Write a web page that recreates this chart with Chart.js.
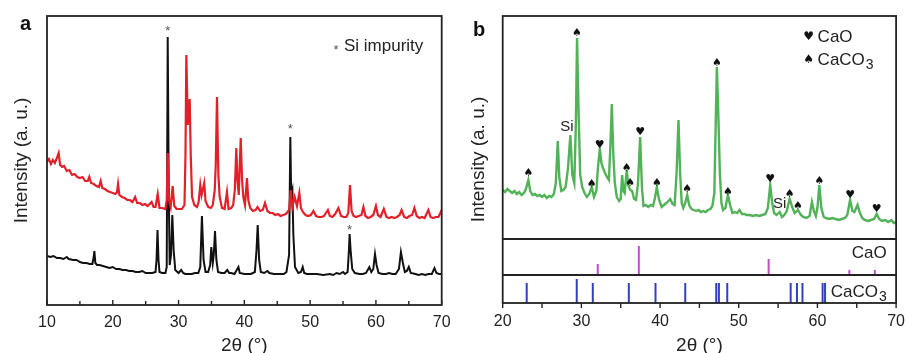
<!DOCTYPE html>
<html>
<head>
<meta charset="utf-8">
<script src="https://cdn.jsdelivr.net/npm/chart.js@4.4.1/dist/chart.umd.min.js"></script>
<style>
  body { margin: 0; background: #fff; overflow: hidden; }
  #wrap { position: relative; width: 906px; height: 353px; overflow: hidden; }
  canvas { position: absolute; top: 0; }
  .tag { position: absolute; font: bold 20px "Liberation Sans", Arial, sans-serif; line-height: 20px; color: #111; }
</style>
</head>
<body>
<div id="wrap">
  <canvas id="chartA" width="460" height="362" style="left:0"></canvas>
  <canvas id="chartB" width="454" height="362" style="left:460px"></canvas>
  <div class="tag" style="left:20px;top:13px">a</div>
  <div class="tag" style="left:473px;top:19px">b</div>
</div>
<script>
// ---- panel a: 2θ / intensity pairs ----
const redA = [[10,143],[10.3,146],[10.6,141],[10.9,145],[11.2,142],[11.5,147],[11.77,152],[12.0,140],[12.3,138],[12.6,139],[13,134],[13.4,135],[13.8,130],[14.2,131],[14.6,128],[15,127],[15.4,128],[15.8,124],[16.2,124],[16.43,128],[16.7,122],[17.1,121],[17.5,119],[17.9,118],[18.16,124],[18.4,117],[18.8,116],[19.2,114],[19.6,113],[20,112],[20.4,111],[20.65,113],[20.8,121],[21.0,110],[21.4,108],[21.8,107],[22.2,105],[22.6,105],[23.0,103],[23.4,108],[23.7,102],[24.1,102],[24.5,100],[24.9,101],[25.3,99],[25.9,103],[26.2,98],[26.5,98],[26.83,111],[27.1,97],[27.5,97],[28.0,96],[28.2,105],[28.35,152],[28.55,105],[28.8,98],[29.1,119],[29.35,99],[29.7,96],[30.1,96],[30.5,96],[30.9,100],[31.05,150],[31.18,250],[31.4,180],[31.55,195],[31.69,206],[31.85,150],[32.05,108],[32.4,100],[32.8,98],[33.05,103],[33.3,120],[33.5,110],[33.9,122],[34.1,104],[34.5,98],[34.9,97],[35.2,100],[35.5,115],[35.65,140],[35.84,208],[36.05,130],[36.25,108],[36.6,97],[37.0,96],[37.36,113],[37.6,96],[38.0,97],[38.3,100],[38.55,115],[38.78,157],[38.95,125],[39.15,110],[39.3,140],[39.45,167],[39.65,125],[39.85,108],[40.1,100],[40.4,127],[40.6,105],[40.9,97],[41.3,94],[41.7,95],[42.0,98],[42.4,94],[42.8,95],[43.14,102],[43.5,94],[43.9,92],[44.3,92],[44.7,90],[45.1,91],[45.5,89],[45.9,90],[46.3,91],[46.8,95],[47.05,115],[47.3,98],[47.65,108],[48.0,99],[48.36,112],[48.6,97],[48.9,93],[49.3,90],[49.7,89],[50.1,90],[50.5,94],[50.9,89],[51.3,88],[51.7,88],[52.1,89],[52.4,92],[52.7,95],[53.0,89],[53.4,88],[53.8,91],[54.3,97],[54.7,89],[55.1,88],[55.5,88],[55.8,92],[56.06,120],[56.3,94],[56.6,89],[57.0,88],[57.4,89],[57.8,90],[58.1,98],[58.4,89],[58.8,87],[59.2,88],[59.6,90],[60.0,99],[60.3,90],[60.7,88],[61.2,96],[61.6,88],[62.0,87],[62.4,88],[62.8,87],[63.2,88],[63.6,90],[63.9,95],[64.3,88],[64.7,87],[65.1,89],[65.5,90],[65.85,97],[66.2,89],[66.6,87],[67.0,88],[67.4,87],[67.97,95],[68.3,88],[68.7,87],[69.1,88],[69.5,88],[69.8,92],[70,95]];

const blackA = [[10,49],[10.5,48],[11,49],[11.5,47],[12,47],[12.5,46],[13,48],[13.3,46],[14,45],[14.5,45],[15,43],[15.5,42],[16,42],[16.5,41],[16.9,41],[17.1,48],[17.2,54],[17.35,42],[17.6,40],[18,40],[18.5,39],[19,38],[19.5,37],[20,38],[20.5,36],[21,36],[21.5,35],[22,35],[22.5,34],[23,34],[23.5,33],[24,33],[24.5,34],[25,32],[25.5,32],[26,32],[26.5,33],[26.65,45],[26.8,75],[26.95,45],[27.1,33],[27.5,32],[28,32],[28.2,38],[28.35,268],[28.5,120],[28.65,40],[28.85,50],[29.05,90],[29.25,55],[29.5,35],[30,32],[30.4,35],[30.7,32],[31,31],[31.5,31],[32,31],[32.5,32],[33,32],[33.3,38],[33.55,89],[33.8,45],[34.1,33],[34.5,33],[34.8,40],[34.98,58],[35.2,42],[35.35,50],[35.54,74],[35.75,45],[36,33],[36.5,32],[37,32],[37.4,35],[37.7,32],[38,32],[38.5,31],[39.1,38],[39.3,32],[40,31],[40.5,31],[41,31],[41.6,33],[41.85,55],[42.03,80],[42.25,45],[42.5,33],[43,32],[43.5,34],[43.8,32],[44.5,31],[45,31],[45.5,31],[46,31],[46.4,33],[46.8,50],[46.99,168],[47.12,110],[47.3,115],[47.45,70],[47.7,38],[48.2,32],[48.6,33],[48.87,38],[49.1,32],[49.5,31],[50,31],[51,31],[52,30],[53,31],[53.5,30],[54,32],[54.5,31],[55,33],[55.3,31],[55.7,33],[55.9,55],[56.0,71],[56.15,55],[56.4,36],[56.8,32],[57.5,31],[58,31],[58.5,32],[59,38],[59.3,33],[59.6,36],[59.86,51],[60.1,40],[60.4,32],[61,31],[61.5,31],[62,32],[62.5,31],[63,31],[63.5,36],[63.8,53],[64.1,42],[64.4,33],[64.7,34],[65.0,38],[65.3,32],[66,31],[66.5,30],[67,31],[67.5,30],[68,31],[68.5,31],[68.9,37],[69.2,32],[69.6,31],[70,31]];

const siStarsA = [[28.35, 277], [46.99, 179], [56.0, 78]];
const ticksA = [10, 20, 30, 40, 50, 60, 70];

// ---- panel b ----
const greenB = [[20,113],[20.3,111],[20.6,114],[20.9,112],[21.2,110],[21.5,112],[21.8,109],[22.1,111],[22.4,108],[22.7,110],[22.95,114],[23.26,123],[23.5,112],[23.8,108],[24.1,109],[24.4,107],[24.7,108],[25.0,106],[25.3,108],[25.6,105],[25.9,107],[26.2,106],[26.5,109],[26.75,120],[27.0,162],[27.2,125],[27.45,112],[27.7,113],[28.0,116],[28.3,135],[28.6,168],[28.85,128],[29.1,120],[29.3,180],[29.45,265],[29.65,190],[29.85,128],[30.1,116],[30.4,110],[30.7,106],[31.0,109],[31.32,116],[31.6,106],[31.9,112],[32.1,135],[32.34,154],[32.55,140],[32.75,135],[33.0,130],[33.25,126],[33.5,123],[33.7,160],[33.87,199],[34.05,150],[34.25,120],[34.5,106],[34.8,102],[35.0,104],[35.18,128],[35.35,112],[35.5,110],[35.77,133],[35.95,118],[36.2,113],[36.45,112],[36.7,104],[36.95,103],[37.2,120],[37.47,166],[37.7,115],[37.9,97],[38.2,98],[38.5,96],[38.8,98],[39.1,97],[39.35,105],[39.59,116],[39.85,104],[40.2,96],[40.5,98],[40.8,100],[41.05,102],[41.29,104],[41.6,99],[41.85,98],[42.1,130],[42.34,183],[42.55,130],[42.75,100],[42.95,95],[43.2,100],[43.45,108],[43.7,98],[44.0,94],[44.3,93],[44.6,92],[44.9,93],[45.2,91],[45.5,92],[45.8,91],[46.1,93],[46.4,94],[46.65,97],[46.9,110],[47.05,170],[47.22,236],[47.4,190],[47.6,130],[47.8,100],[48.0,93],[48.3,95],[48.62,108],[48.9,98],[49.2,90],[49.5,91],[49.8,90],[50.1,93],[50.4,89],[50.7,89],[51.0,88],[51.4,88],[51.8,87],[52.2,88],[52.6,87],[53.0,88],[53.4,89],[53.7,95],[54.0,118],[54.25,100],[54.5,90],[54.8,88],[55.2,91],[55.5,86],[55.8,88],[56.1,92],[56.47,104],[56.8,96],[57.1,90],[57.53,93],[57.9,88],[58.2,86],[58.6,85],[59.0,87],[59.3,101],[59.55,92],[59.8,87],[60.0,95],[60.24,118],[60.5,95],[60.8,86],[61.1,85],[61.5,84],[61.9,85],[62.3,84],[62.7,83],[63.1,84],[63.5,85],[63.8,88],[64.15,103],[64.45,92],[64.7,91],[65.1,98],[65.4,90],[65.7,85],[66.0,83],[66.4,82],[66.8,83],[67.2,84],[67.53,89],[67.85,84],[68.2,82],[68.6,83],[69.0,81],[69.4,83],[69.7,80],[70,81]];

// reference patterns (stick positions and heights)
const caoPos = [32.08, 37.3, 53.8, 64.06, 67.3];
const caoH = [11, 29, 16, 5, 5];
const caco3Pos = [23.05, 29.41, 31.45, 36.03, 39.42, 43.2, 47.14, 47.48, 48.54, 56.6, 57.4, 58.1, 60.66, 60.97];
const caco3H = [20, 24, 20, 20, 20, 20, 20, 20, 20, 20, 20, 20, 20, 20];
const paneBase = { caco3: 0, cao: 28 };
const paneLevels = [28, 64];

// phase markers on the measured pattern
const spadesB = [[23.26,130],[29.45,270],[31.32,119],[35.77,135],[36.2,120],[39.59,120],[43.45,114],[47.22,240],[48.62,111],[56.47,109],[57.53,97],[60.24,122]];
const heartsB = [[32.34,158],[37.47,171],[54.0,124],[64.15,108],[67.53,94]];
const siLabelsB = [[28.15,176],[55.19,99]];
const ticksB = [20, 30, 40, 50, 60, 70];

const FONT = '"Liberation Sans", Arial, Helvetica, sans-serif';
const SYM = '"DejaVu Sans", sans-serif';
const INK = '#222';

const toXY = arr => arr.map(([x, y]) => ({ x, y }));
const sticks = (pos, h, base) => pos.flatMap((x, i) => [{ x, y: base }, { x, y: base + h[i] }, { x, y: null }]);

// frame, tick marks and text annotations
function decor(cfg) {
  return {
    id: 'decor',
    afterDatasetsDraw(chart) {
      const { ctx, chartArea: a, scales: { x, y } } = chart;
      ctx.save();
      ctx.strokeStyle = INK;
      ctx.lineWidth = 1.8;
      (cfg.levels || []).forEach(l => {
        const py = y.getPixelForValue(l);
        ctx.beginPath(); ctx.moveTo(a.left, py); ctx.lineTo(a.right, py); ctx.stroke();
      });
      ctx.strokeRect(a.left, a.top, a.right - a.left, a.bottom - a.top);
      ctx.lineWidth = 1.4;
      for (let v = x.min; v <= x.max; v += 5) {
        const px = x.getPixelForValue(v);
        const len = v % 10 === 0 ? cfg.major : cfg.minor;
        ctx.beginPath(); ctx.moveTo(px, a.bottom); ctx.lineTo(px, a.bottom + cfg.dir * len); ctx.stroke();
      }
      ctx.textBaseline = 'middle';
      cfg.texts.forEach(t => {
        ctx.font = t.font;
        ctx.fillStyle = t.color || INK;
        ctx.textAlign = t.align || 'center';
        const px = x.getPixelForValue(t.x) + (t.dx || 0);
        const py = y.getPixelForValue(t.y) + (t.dy || 0);
        ctx.fillText(t.text, px, py);
        if (t.sub) {
          const w = ctx.measureText(t.text).width;
          ctx.font = t.subFont;
          ctx.textAlign = 'left';
          ctx.fillText(t.sub, px + w + 1, py + 5);
        }
      });
      ctx.restore();
    }
  };
}

function axes(min, max, ymax, ticks, pad) {
  return {
    x: {
      type: 'linear', min, max,
      grid: { display: false, drawTicks: false },
      border: { display: false },
      afterBuildTicks: s => { s.ticks = ticks.map(value => ({ value })); },
      ticks: { padding: pad.tick, color: INK, font: { family: FONT, size: 16 } },
      // negative top padding lets the title box overlap the label box, as in the figure
      title: { display: true, text: '2θ (°)', color: INK, font: { family: FONT, size: 19 }, padding: { top: -5.6, bottom: 4.6 } }
    },
    y: {
      min: 0, max: ymax,
      grid: { display: false, drawTicks: false },
      border: { display: false },
      ticks: { display: false },
      title: { display: true, text: 'Intensity (a. u.)', color: INK, font: { family: FONT, size: 19 }, padding: { top: 0, bottom: pad.title } }
    }
  };
}

const line = (data, color, width) => ({ type: 'line', data, borderColor: color, borderWidth: width, pointRadius: 0, tension: 0, fill: false, spanGaps: false });

new Chart(document.getElementById('chartA'), {
  type: 'line',
  data: { datasets: [line(toXY(redA), '#e3202a', 2.2), line(toXY(blackA), '#111111', 2)] },
  options: {
    responsive: false, animation: false,
    layout: { padding: { left: 10, right: 18.3, top: 16, bottom: 0 } },
    plugins: { legend: { display: false }, tooltip: { enabled: false } },
    scales: axes(10, 70, 289, ticksA, { tick: 8, title: 14.2 })
  },
  plugins: [decor({
    dir: -1, major: 5, minor: 4,
    texts: [
      ...siStarsA.map(([x, y]) => ({ x, y, dy: 3, text: '*', font: `13px ${FONT}`, color: '#555' })),
      { x: 53.93, y: 258, dy: 3, text: '*', font: `13px ${FONT}`, color: '#555' },
      { x: 53.93, y: 259, dx: 8, text: 'Si impurity', align: 'left', font: `17px ${FONT}` }
    ]
  })]
});

new Chart(document.getElementById('chartB'), {
  type: 'line',
  data: { datasets: [
    line(toXY(greenB), '#52b257', 2.4),
    line(sticks(caoPos, caoH, paneBase.cao), '#c24cc4', 2),
    line(sticks(caco3Pos, caco3H, paneBase.caco3), '#3040c0', 2)
  ] },
  options: {
    responsive: false, animation: false,
    layout: { padding: { left: 7.6, right: 0, top: 16, bottom: 0 } },
    plugins: { legend: { display: false }, tooltip: { enabled: false } },
    scales: axes(20, 70, 287, ticksB, { tick: 9, title: 12.3 })
  },
  plugins: [decor({
    dir: 1, major: 5, minor: 5, levels: paneLevels,
    texts: [
      ...spadesB.map(([x, y]) => ({ x, y, text: '♠', font: `11px ${SYM}`, color: '#111' })),
      ...heartsB.map(([x, y]) => ({ x, y, text: '♥', font: `11px ${SYM}`, color: '#111' })),
      ...siLabelsB.map(([x, y]) => ({ x, y, text: 'Si', font: `15px ${FONT}` })),
      { x: 58.88, y: 265.7, text: '♥', font: `12px ${SYM}`, color: '#111' },
      { x: 58.88, y: 265.7, dx: 9, text: 'CaO', align: 'left', font: `17px ${FONT}` },
      { x: 58.88, y: 243, text: '♠', font: `12px ${SYM}`, color: '#111' },
      { x: 58.88, y: 243, dx: 9, text: 'CaCO', sub: '3', align: 'left', font: `17px ${FONT}`, subFont: `14px ${FONT}` },
      { x: 68.8, y: 50, text: 'CaO', align: 'right', font: `17px ${FONT}` },
      { x: 61.7, y: 11, text: 'CaCO', sub: '3', align: 'left', font: `17px ${FONT}`, subFont: `14px ${FONT}` }
    ]
  })]
});
</script>
</body>
</html>
